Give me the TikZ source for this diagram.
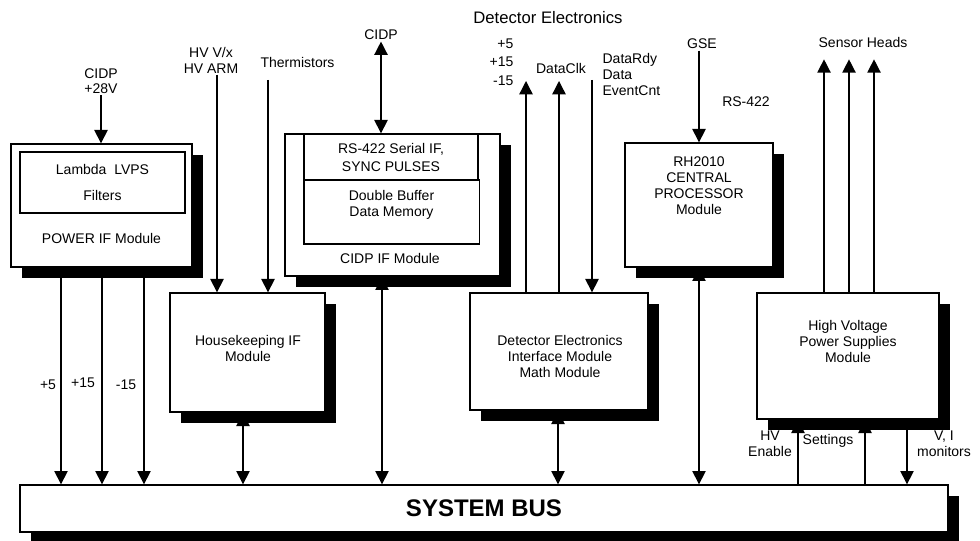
\documentclass[tikz,border=0pt]{standalone}
\usepackage{fontspec}
\setmainfont{Liberation Sans}
\usepackage{tikz}
\usetikzlibrary{arrows.meta,positioning,shadows}
\newcommand{\modfont}{\fontsize{10.5}{12}\selectfont}
\tikzset{
  modbox/.style={draw,line width=1pt,fill=white,inner sep=2pt,align=center,font=\modfont,
    drop shadow={shadow xshift=8.25pt,shadow yshift=-8.25pt,fill=black,opacity=1}},
  subbox/.style={draw,line width=1pt,fill=white,inner sep=2pt,align=center,font=\modfont},
  sigtext/.style={font=\modfont,align=center,inner sep=1pt},
  sig/.style={-{Triangle[width=10pt,length=10pt]},line width=1pt},
  bisig/.style={{Triangle[width=10pt,length=10pt]}-{Triangle[width=10pt,length=10pt]},line width=1pt}
}

\begin{document}
\begin{tikzpicture}[x=0.75pt,y=-0.75pt]
  \useasboundingbox (0,0) rectangle (980,541);
  \node[font=\fontsize{12.5}{15}\selectfont] (title) at (548,18) {Detector Electronics};

  \node[modbox,minimum width=135.75pt,minimum height=92.25pt] (power) at (101.5,205.5) {};
  \node[subbox,minimum width=123.75pt,minimum height=45.75pt] (lvps) at (102.5,182.5) {Lambda~~LVPS\\[8pt]Filters};
  \node[sigtext] (powerlbl) at (101.5,238) {POWER IF Module};

  \node[modbox,minimum width=161.25pt,minimum height=106.5pt] (cidp) at (392.5,205) {};
  \node[subbox,minimum width=130.5pt,minimum height=34.5pt] (serial) at (391,157) {RS-422 Serial IF,\\[1.5pt]SYNC PULSES};
  \node[subbox,minimum width=131.5pt,minimum height=48pt] (buffer) at (391.5,212) {};
  \node[sigtext] (buflbl) at (391.5,204.5) {Double Buffer\\Data Memory};
  \node[sigtext] (cidplbl) at (390,258) {CIDP IF Module};

  \node[modbox,minimum width=116.25pt,minimum height=89.25pt] (hk) at (247.5,352.5) {};
  \node[sigtext] (hklbl) at (248,348.5) {Housekeeping IF\\Module};
  \node[modbox,minimum width=133.5pt,minimum height=87.75pt] (det) at (559,351.5) {};
  \node[sigtext] (detlbl) at (560,356.5) {Detector Electronics\\Interface Module\\Math Module};

  \node[modbox,minimum width=111pt,minimum height=93pt] (rh) at (699,205) {};
  \node[sigtext] (rhlbl) at (699,186) {RH2010\\CENTRAL\\PROCESSOR\\Module};

  \node[modbox,minimum width=136.5pt,minimum height=94.5pt] (hv) at (848,356) {};
  \node[sigtext] (hvlbl) at (848,341) {High Voltage\\Power Supplies\\Module};

  \node[modbox,minimum width=696pt,minimum height=35.25pt,font=\fontsize{18}{20}\selectfont\bfseries] (bus) at (484,508.5) {SYSTEM BUS};

  % inputs from the top
  \node[sigtext] (cidp28) at (101,81) {CIDP\\[-1pt]+28V};
  \draw[sig] (cidp28) -- (cidp28 |- power.north);
  \node[sigtext] (hvvx) at (211,60) {HV V/x\\HV ARM};
  \draw[sig] ([xshift=4.5pt]hvvx.south) -- ([xshift=4.5pt]hvvx.south |- hk.north);
  \node[sigtext,anchor=west] (therm) at (259,62) {Thermistors};
  \coordinate (thermtop) at (268,80);
  \draw[sig] (thermtop) -- (thermtop |- hk.north);
  \node[sigtext] (cidptop) at (381,35) {CIDP};
  \draw[bisig] (cidptop) -- (cidptop |- cidp.north);

  \node[sigtext,align=right,anchor=east] (supply) at (515,62) {+5\\[2pt]+15\\[2pt]-15};
  \coordinate (suptip) at (526,81);
  \draw[sig] (det.north -| suptip) -- (suptip);
  \node[sigtext] (clk) at (561,69) {DataClk};
  \coordinate (clktip) at (559,81);
  \draw[sig] (det.north -| clktip) -- (clktip);
  \node[sigtext,align=left,anchor=west] (rdy) at (601,74) {DataRdy\\Data\\EventCnt};
  \coordinate (rdytop) at (592,80);
  \draw[sig] (rdytop) -- (rdytop |- det.north);

  \node[sigtext] (gse) at (702,44) {GSE};
  \node[sigtext] (rs422) at (746,102) {RS-422};
  \draw[sig] (gse.south -| rh.north) -- (rh.north);
  \node[sigtext] (heads) at (863,43) {Sensor Heads};
  \foreach \dx in {-24,1,26}
    \draw[sig] ([xshift=\dx*0.75pt]hv.north) -- ++(0,-233);

  % bus connections
  \foreach \x in {61,102,144}
    \draw[sig] (power.south -| \x,0) -- (bus.north -| \x,0);
  \node[sigtext] (p5) at (48,385) {+5};
  \node[sigtext] (p15) at (83,383) {+15};
  \node[sigtext] (m15) at (126,385) {-15};
  \draw[bisig] (hk.south -| 243,0) -- (bus.north -| 243,0);
  \draw[bisig] (cidp.south -| 382,0) -- (bus.north -| 382,0);
  \draw[bisig] (det.south -| 558,0) -- (bus.north -| 558,0);
  \draw[bisig] (rh.south) -- (rh.south |- bus.north);

  \node[sigtext] (hven) at (770,444) {HV\\Enable};
  \node[sigtext] (settings) at (828,441) {Settings};
  \node[sigtext] (vimon) at (944,444) {V, I\\monitors};
  \draw[sig] (bus.north -| 798,0) -- (hv.south -| 798,0);
  \draw[sig] (bus.north -| 865,0) -- (hv.south -| 865,0);
  \draw[sig] (hv.south -| 907,0) -- (bus.north -| 907,0);
\end{tikzpicture}
\end{document}
